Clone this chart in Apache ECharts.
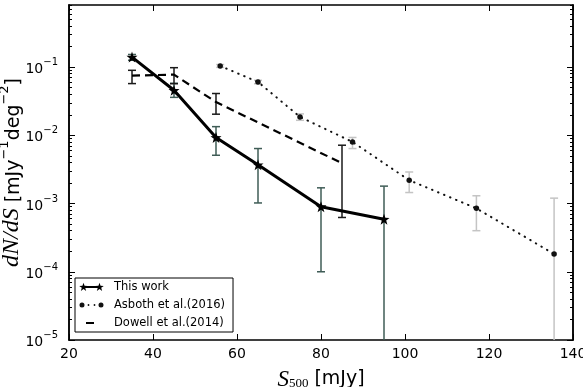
<!DOCTYPE html>
<html>
<head>
<meta charset="utf-8">
<script src="https://cdn.jsdelivr.net/npm/echarts@6/dist/echarts.min.js"></script>
<style>
  html, body { margin: 0; padding: 0; background: #fff; }
  #chart { width: 583px; height: 387px; }
</style>
</head>
<body>
<div id="chart"></div>
<script>
// This work (stars + thick solid line)
const thisX = [35, 45, 55, 65, 80, 95];
const thisY = [0.14, 0.0457, 0.0093, 0.0037, 0.0009, 0.00059];
const thisLo = [0.126, 0.036, 0.0051, 0.00102, 0.0001, 0];
const thisHi = [0.153, 0.058, 0.0134, 0.0064, 0.0017, 0.0018];

// Asboth et al. (2016), dotted with dots
const asbX = [56, 65, 75, 87.5, 101, 117, 135.5];
const asbY = [0.104, 0.0605, 0.0186, 0.0080, 0.0022, 0.00085, 0.000182];
const asbLo = [0.099, 0.057, 0.0166, 0.0064, 0.00145, 0.0004, 0];
const asbHi = [0.109, 0.064, 0.0206, 0.0093, 0.0029, 0.0013, 0.0012];

// Dowell et al. (2014), dashed
const dowX = [35, 45, 55, 85];
const dowY = [0.075, 0.0775, 0.0307, 0.0039];
const dowLo = [0.0573, 0.057, 0.0204, 0.000625];
const dowHi = [0.0897, 0.098, 0.041, 0.00716];

const yDecades = [-5, -4, -3, -2, -1];
const yMinor = [];
yDecades.forEach(d => { for (let k = 2; k <= 9; k++) yMinor.push(d + Math.log10(k)); });
const yMax = -0.09;

const chart = echarts.init(document.getElementById('chart'));

function star(cx, cy, R, r) {
  let s = '';
  for (let i = 0; i < 10; i++) {
    const a = -Math.PI / 2 + i * Math.PI / 5;
    const d = i % 2 ? r : R;
    s += (i ? 'L' : 'M') + (cx + d * Math.cos(a)).toFixed(2) + ',' + (cy + d * Math.sin(a)).toFixed(2);
  }
  return s + 'Z';
}
function dot(cx, cy, r) {
  return 'M' + (cx - r) + ',' + cy + 'A' + r + ',' + r + ',0,1,1,' + (cx + r) + ',' + cy +
    'A' + r + ',' + r + ',0,1,1,' + (cx - r) + ',' + cy + 'Z';
}
// legend handles drawn in a 25x12 box (corner points fix the box)
const BOX = 'M0,0L0,0M25,12L25,12';
const STAR = 'path://' + star(0, 0, 10, 4);
const ICON_THIS = 'path://' + BOX + 'M4,5H21V7H4Z' + star(4.5, 6.3, 4.5, 1.8) + star(20.5, 6.3, 4.5, 1.8);
const ICON_ASB = 'path://' + BOX + dot(3, 6, 2.5) + dot(9.5, 6, 0.9) + dot(15.5, 6, 0.9) + dot(22, 6, 2.5);
const ICON_DOW = 'path://' + BOX + 'M7,5H15V7H7Z';

function pts(xs, ys) {
  return xs.map((x, i) => [x, Math.log10(ys[i])]);
}

function errSeries(name, xs, lo, hi, color) {
  return {
    type: 'custom',
    name: name,
    clip: true,
    silent: true,
    z: 1,
    encode: { x: 0, y: [1, 2] },
    data: xs.map((x, i) => [x, Math.log10(Math.max(lo[i], 1e-8)), Math.log10(hi[i])]),
    renderItem: function (params, api) {
      const t = api.coord([api.value(0), api.value(2)]);
      const b = api.coord([api.value(0), api.value(1)]);
      const w = 4;
      const st = { stroke: color, lineWidth: 1.5 };
      return {
        type: 'group',
        children: [
          { type: 'line', shape: { x1: t[0], y1: t[1], x2: b[0], y2: b[1] }, style: st },
          { type: 'line', shape: { x1: t[0] - w, y1: t[1], x2: t[0] + w, y2: t[1] }, style: st },
          { type: 'line', shape: { x1: b[0] - w, y1: b[1], x2: b[0] + w, y2: b[1] }, style: st }
        ]
      };
    }
  };
}

const tickFont = { fontFamily: 'DejaVu Sans', fontSize: 14, color: '#000' };
const frame = { show: true, onZero: false, lineStyle: { color: '#000', width: 1.5 } };

function yLabel(v) {
  if (Math.abs(v - Math.round(v)) > 1e-6) return '';
  return '{b|10}{s|' + String(Math.round(v)).replace('-', '\u2212') + '}';
}

function yAx(pos, ticks, len, extra) {
  return Object.assign({
    type: 'value', position: pos, min: -5, max: yMax, interval: 1,
    axisLine: frame,
    axisTick: { show: true, inside: true, length: len, customValues: ticks, lineStyle: { color: '#000', width: 1 } },
    axisLabel: { show: false },
    splitLine: { show: false }
  }, extra || {});
}

const option = {
  backgroundColor: '#fff',
  animation: false,
  grid: { left: 69, right: 10, top: 5, bottom: 47, containLabel: false, outerBoundsMode: 'none' },
  xAxis: [
    {
      type: 'value', position: 'bottom', min: 20, max: 140, interval: 20,
      axisLine: frame,
      axisTick: { inside: true, length: 6, lineStyle: { color: '#000', width: 1 } },
      axisLabel: Object.assign({ margin: 7, hideOverlap: false }, tickFont),
      splitLine: { show: false },
      name: '{i|S}{sub|500}{t| [mJy]}',
      nameLocation: 'middle',
      nameGap: 28,
      nameMoveOverlap: false,
      nameTextStyle: {
        rich: {
          i: { fontFamily: 'Liberation Serif', fontStyle: 'italic', fontSize: 23, color: '#000' },
          sub: { fontFamily: 'Liberation Serif', fontSize: 13, color: '#000', padding: [9, 0, 0, 0] },
          t: { fontFamily: 'DejaVu Sans', fontSize: 19, color: '#000' }
        }
      }
    },
    {
      type: 'value', position: 'top', min: 20, max: 140, interval: 20,
      axisLine: frame,
      axisTick: { inside: true, length: 6, lineStyle: { color: '#000', width: 1 } },
      axisLabel: { show: false },
      splitLine: { show: false }
    }
  ],
  yAxis: [
    yAx('left', yDecades, 6, {
      axisLabel: {
        margin: 11,
        formatter: yLabel,
        rich: {
          b: { fontFamily: 'DejaVu Sans', fontSize: 14, color: '#000', verticalAlign: 'bottom' },
          s: { fontFamily: 'DejaVu Sans', fontSize: 10, color: '#000', padding: [0, 0, 9, 0], verticalAlign: 'top' }
        }
      },
      name: '{i|dN/dS}{t| [mJy}{s|\u22121}{t|deg}{s|\u22122}{t|]}',
      nameLocation: 'middle',
      nameGap: 45,
      nameMoveOverlap: false,
      nameTextStyle: {
        rich: {
          i: { fontFamily: 'Liberation Serif', fontStyle: 'italic', fontSize: 24, color: '#000', lineHeight: 26, verticalAlign: 'bottom' },
          t: { fontFamily: 'DejaVu Sans', fontSize: 19, color: '#000', lineHeight: 24, verticalAlign: 'bottom' },
          s: { fontFamily: 'DejaVu Sans', fontSize: 13, color: '#000', lineHeight: 14, verticalAlign: 'top' }
        }
      }
    }),
    yAx('left', yMinor, 3),
    yAx('right', yDecades, 6),
    yAx('right', yMinor, 3)
  ],
  legend: {
    data: [
      { name: 'This work', icon: ICON_THIS },
      { name: 'Asboth et al.(2016)', icon: ICON_ASB },
      { name: 'Dowell et al.(2014)', icon: ICON_DOW }
    ],
    orient: 'vertical',
    left: 75, top: 278,
    padding: [3, 8, 3, 4],
    itemWidth: 25, itemHeight: 12, itemGap: 6,
    backgroundColor: '#fff',
    borderColor: '#000', borderWidth: 1, borderRadius: 0,
    textStyle: { fontFamily: 'DejaVu Sans', fontSize: 11.5, color: '#000', padding: [0, 0, 0, 5] }
  },
  series: [
    errSeries('err1', thisX, thisLo, thisHi, '#3f5c56'),
    errSeries('err2', asbX, asbLo, asbHi, '#c4c4c4'),
    errSeries('err3', dowX, dowLo, dowHi, '#1a1a1a'),
    {
      type: 'line', name: 'Asboth et al.(2016)', data: pts(asbX, asbY), z: 3,
      symbol: 'circle', symbolSize: 5.5,
      itemStyle: { color: '#111' },
      lineStyle: { color: '#111', width: 2, type: [0.5, 6], cap: 'round' }
    },
    {
      type: 'line', name: 'Dowell et al.(2014)', data: pts(dowX, dowY), z: 3,
      symbol: 'none',
      itemStyle: { color: '#000' },
      lineStyle: { color: '#000', width: 2.2, type: [8, 5] }
    },
    {
      type: 'line', name: 'This work', data: pts(thisX, thisY), z: 4,
      symbol: STAR, symbolSize: 11,
      itemStyle: { color: '#000' },
      lineStyle: { color: '#000', width: 3 }
    }
  ]
};

chart.setOption(option);
</script>
</body>
</html>
